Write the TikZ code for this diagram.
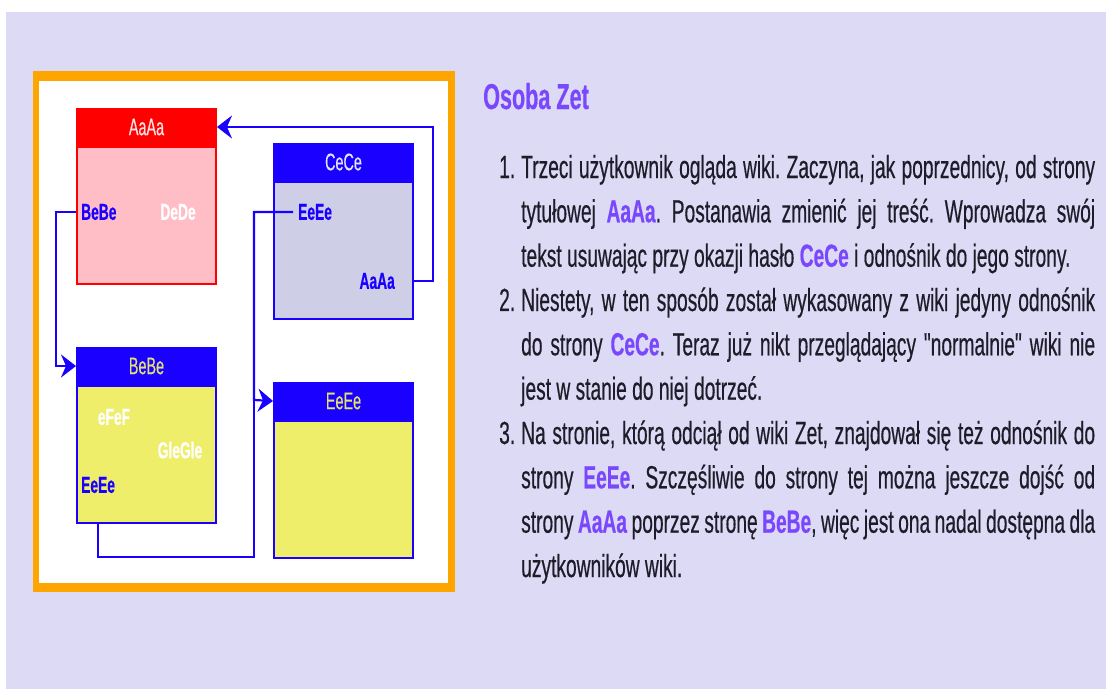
\documentclass[tikz,border=0pt]{standalone}
\usepackage{fontspec}
\setmainfont{Liberation Sans}[FakeStretch=0.6, FakeBold=0.4]
\newfontfamily\quotefont{Liberation Sans}[FakeStretch=0.6, FakeBold=0.4]
\definecolor{pagelilac}{RGB}{221,218,246}
\definecolor{frameorange}{RGB}{255,165,0}
\definecolor{headred}{RGB}{255,0,0}
\definecolor{bodypink}{RGB}{255,190,198}
\definecolor{linkblue}{RGB}{25,0,255}
\definecolor{bodygrey}{RGB}{206,206,230}
\definecolor{bodyyellow}{RGB}{238,238,106}
\definecolor{headyellow}{RGB}{226,226,112}
\definecolor{titlepurple}{RGB}{122,72,252}
\definecolor{textdark}{RGB}{30,28,40}
\usepackage{tikz}
\usetikzlibrary{arrows.meta, positioning}

\newcommand{\hl}[1]{\textcolor{titlepurple}{\textbf{#1}}}
\newcommand{\jline}[1]{\makebox[574pt][s]{#1}}
\newcommand{\dq}{{\quotefont"}}
\frenchspacing

\begin{document}
\begin{tikzpicture}[x=1pt, y=-1pt,
    pagehead/.style={draw=linkblue, fill=linkblue, line width=2pt, anchor=north west,
      minimum width=139pt, minimum height=36pt, inner sep=0pt, font=\fontsize{24}{24}\selectfont},
    pagebody/.style={draw=linkblue, line width=2pt, below=0pt of #1,
      minimum width=139pt, minimum height=137pt, inner sep=0pt},
    linklabel/.style={inner sep=0pt, text=linkblue, font=\bfseries\fontsize{23}{23}\selectfont},
    deadlabel/.style={inner sep=0pt, text=white, font=\bfseries\fontsize{23}{23}\selectfont},
    conn/.style={draw=linkblue, line width=2.2pt},
    connarrow/.style={conn, -{Stealth[length=15pt, width=23pt, inset=5pt]}},
    txt/.style={anchor=base west, inner sep=0pt, text=textdark, font=\fontsize{32}{38}\selectfont}]
  \useasboundingbox (0,0) rectangle (1106,689);
  % Page background
  \fill[white] (0,0) rectangle (1106,689);
  \fill[pagelilac] (6,12) rectangle (1106,689);
  % Orange frame of the diagram
  \fill[frameorange] (33,71) rectangle (455,592);
  \fill[white] (39,81) rectangle (448,583);

  % Pages of the wiki
  \node[pagehead, draw=headred, fill=headred, text={rgb,255:red,255;green,228;blue,228}] (aHead) at (76,108) {AaAa};
  \node[pagebody=aHead, draw=headred, fill=bodypink] (aBody) {};
  \node[pagehead, text={rgb,255:red,228;green,228;blue,252}] (cHead) at (273,143) {CeCe};
  \node[pagebody=cHead, fill=bodygrey] (cBody) {};
  \node[pagehead, text=headyellow] (bHead) at (76,347) {BeBe};
  \node[pagebody=bHead, fill=bodyyellow] (bBody) {};
  \node[pagehead, text=headyellow] (eHead) at (273,382) {EeEe};
  \node[pagebody=eHead, fill=bodyyellow] (eBody) {};

  % Links inside the pages
  \node[linklabel, anchor=west] (aLinkB) at (81,212) {BeBe};
  \node[deadlabel] (aDeDe) at (178,212) {DeDe};
  \node[linklabel, anchor=west] (cLinkE) at (298,212) {EeEe};
  \node[linklabel, anchor=east] (cLinkA) at (395,281) {AaAa};
  \node[deadlabel] (bEfEf) at (114,417) {eFeF};
  \node[deadlabel] (bGle) at (180,450) {GleGle};
  \node[linklabel, anchor=west] (bLinkE) at (81,485) {EeEe};

  % Connectors
  \coordinate (eBus) at (254,400);
  \draw[connarrow] (aBody.west |- aLinkB) -- ++(-20,0) |- (bHead.west);
  \draw[connarrow] ([xshift=-5pt]cLinkE.west) -| (eBus) -- (eHead.west);
  \draw[conn] (bLinkE.center |- bBody.south) -- ++(0,33) -| (eBus);
  \draw[connarrow] (cBody.east |- cLinkA) -- ++(19,0) |- (aHead.east);

  % Text on the right
  \node[anchor=base west, inner sep=0pt, text=titlepurple, font=\bfseries\fontsize{36}{40}\selectfont] (title) at (483,109) {Osoba Zet};
  \foreach \num/\row in {1/0, 2/3, 3/6}
    \node[txt] (num\num) at (499,178+44.33*\row) {\num.};
  \node[txt] (l1) at (521,178) {\jline{Trzeci użytkownik ogląda wiki. Zaczyna, jak poprzednicy, od strony}};
  \node[txt] (l2) at (521,222.3) {\jline{tytułowej \hl{AaAa}. Postanawia zmienić jej treść. Wprowadza swój}};
  \node[txt] (l3) at (521,266.7) {tekst usuwając przy okazji hasło \hl{CeCe} i odnośnik do jego strony.};
  \node[txt] (l4) at (521,311) {\jline{Niestety, w ten sposób został wykasowany z wiki jedyny odnośnik}};
  \node[txt] (l5) at (521,355.3) {\jline{do strony \hl{CeCe}. Teraz już nikt przeglądający \dq normalnie\dq{} wiki nie}};
  \node[txt] (l6) at (521,399.7) {jest w stanie do niej dotrzeć.};
  \node[txt] (l7) at (521,444) {\jline{Na stronie, którą odciął od wiki Zet, znajdował się też odnośnik do}};
  \node[txt] (l8) at (521,488.3) {\jline{strony \hl{EeEe}. Szczęśliwie do strony tej można jeszcze dojść od}};
  \node[txt] (l9) at (521,532.7) {\jline{strony \hl{AaAa} poprzez stronę \hl{BeBe}, więc jest ona nadal dostępna dla}};
  \node[txt] (l10) at (521,577) {użytkowników wiki.};
\end{tikzpicture}
\end{document}
